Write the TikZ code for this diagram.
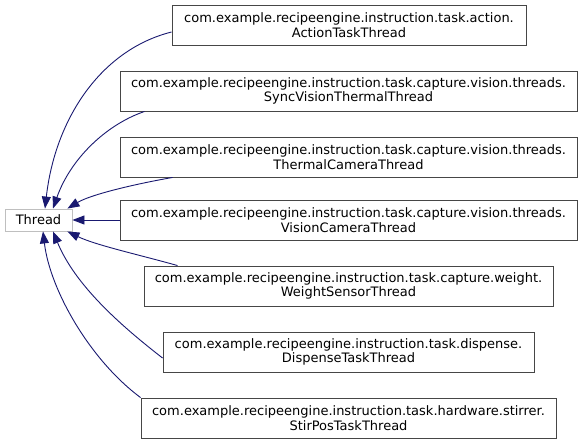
\documentclass[tikz,border=0pt]{standalone}
\usepackage{fontspec}
\setmainfont{DejaVu Sans}
\usetikzlibrary{arrows.meta}
\definecolor{EdgeBlue}{RGB}{25,25,112}
\definecolor{BaseGray}{RGB}{191,191,191}
\definecolor{ClassGray}{RGB}{70,70,70}

\begin{document}
\begin{tikzpicture}[
  x=1pt, y=-1pt,
  every node/.style={font=\fontsize{13}{14.5}\selectfont},
  base/.style={draw=BaseGray, fill=white, line width=0.9pt,
               minimum width=67pt, minimum height=22pt, inner sep=0pt},
  cls/.style={draw=ClassGray, fill=white, line width=0.9pt, align=center,
              minimum height=40pt, inner sep=0pt},
  inherit/.style={-{Triangle[length=12pt, width=9pt]}, draw=EdgeBlue, line width=0.9pt}
]
\useasboundingbox (0,0) rectangle (583,444);
\node[base] (thread) at (38.5,220) {Thread};
\node[cls, minimum width=354pt] (action) at (349,25) {com.example.recipeengine.instruction.task.action.\\ActionTaskThread};
\node[cls, minimum width=457pt] (sync) at (348.5,91) {com.example.recipeengine.instruction.task.capture.vision.threads.\\SyncVisionThermalThread};
\node[cls, minimum width=457pt] (thermal) at (348.5,157) {com.example.recipeengine.instruction.task.capture.vision.threads.\\ThermalCameraThread};
\node[cls, minimum width=457pt] (vision) at (348.5,220) {com.example.recipeengine.instruction.task.capture.vision.threads.\\VisionCameraThread};
\node[cls, minimum width=409pt] (weight) at (348.5,286) {com.example.recipeengine.instruction.task.capture.weight.\\WeightSensorThread};
\node[cls, minimum width=371pt] (dispense) at (348.5,352) {com.example.recipeengine.instruction.task.dispense.\\DispenseTaskThread};
\node[cls, minimum width=415pt] (stirpos) at (348.5,418) {com.example.recipeengine.instruction.task.hardware.stirrer.\\StirPosTaskThread};
% inheritance edges
\draw[inherit] ([yshift=-7pt]action.west) .. controls (100,50) and (55,120) .. ([xshift=6.5pt]thread.north);
\draw[inherit] ([xshift=25pt]sync.south west) .. controls (105,125) and (70,160) .. ([xshift=14.5pt]thread.north);
\draw[inherit] ([xshift=53pt]thermal.south west) .. controls (130,185) and (90,195) .. ([xshift=-5pt]thread.north east);
\draw[inherit] (vision.west) -- (thread.east);
\draw[inherit] ([xshift=34pt]weight.north west) .. controls (140,255) and (95,245) .. ([xshift=-5pt]thread.south east);
\draw[inherit] ([yshift=-6pt]dispense.west) .. controls (120,325) and (75,285) .. ([xshift=14.5pt]thread.south);
\draw[inherit] (stirpos.north west) .. controls (90,360) and (50,290) .. ([xshift=4.5pt]thread.south);
\end{tikzpicture}
\end{document}
